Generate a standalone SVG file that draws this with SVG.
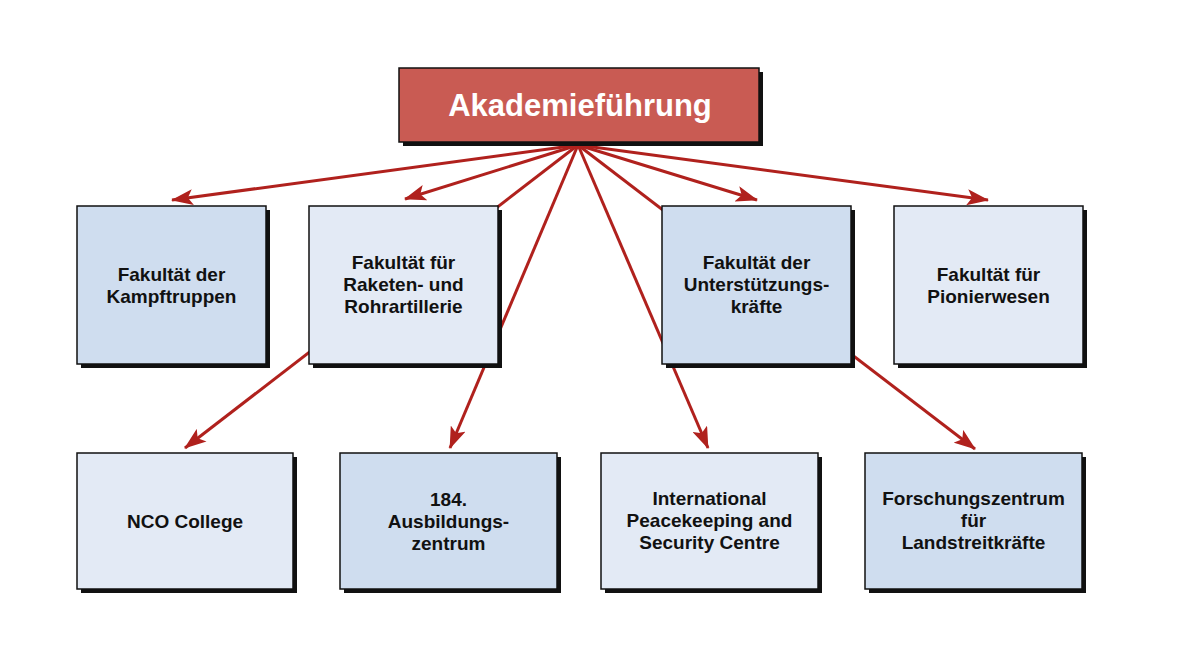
<svg xmlns="http://www.w3.org/2000/svg" width="1181" height="664" viewBox="0 0 1181 664">
<style>
.sh{fill:#111}
.bx{stroke:#111;stroke-width:1.5}
.dk{fill:#cfddef}
.lt{fill:#e3eaf5}
.t{font-family:"Liberation Sans",Arial,sans-serif;font-weight:bold;font-size:19px;fill:#111;text-anchor:middle}
.c{stroke:#b0211d;stroke-width:3;fill:none;marker-end:url(#ah)}
</style>
<defs>
<marker id="ah" viewBox="0 0 22 16" refX="21" refY="8" markerWidth="22" markerHeight="16" markerUnits="userSpaceOnUse" orient="auto">
<path d="M0,0 L22,8 L0,16 L5,8 Z" fill="#b0211d"/>
</marker>
</defs>
<rect width="1181" height="664" fill="#fff"/>
<g id="connectors">
<line class="c" x1="578" y1="145" x2="172" y2="200"/>
<line class="c" x1="578" y1="145" x2="405" y2="199"/>
<line class="c" x1="578" y1="145" x2="757" y2="200"/>
<line class="c" x1="578" y1="145" x2="988" y2="200"/>
<line class="c" x1="578" y1="145" x2="185" y2="448"/>
<line class="c" x1="578" y1="145" x2="450" y2="448"/>
<line class="c" x1="578" y1="145" x2="708" y2="448"/>
<line class="c" x1="578" y1="145" x2="975" y2="449"/>
</g>
<g id="top">
<rect class="sh" x="403" y="72" width="360" height="74"/>
<rect class="bx" x="399" y="68" width="360" height="74" fill="#c95b53"/>
<text x="580" y="116" font-family="Liberation Sans,Arial,sans-serif" font-weight="bold" font-size="31" fill="#fff" text-anchor="middle">Akademieführung</text>
</g>
<g id="n1">
<rect class="sh" x="81" y="210" width="189" height="158"/>
<rect class="bx dk" x="77" y="206" width="189" height="158"/>
<text class="t" x="171.5" y="281">Fakultät der</text>
<text class="t" x="171.5" y="303">Kampftruppen</text>
</g>
<g id="n2">
<rect class="sh" x="313" y="210" width="189" height="158"/>
<rect class="bx lt" x="309" y="206" width="189" height="158"/>
<text class="t" x="403.5" y="269">Fakultät für</text>
<text class="t" x="403.5" y="291">Raketen- und</text>
<text class="t" x="403.5" y="313">Rohrartillerie</text>
</g>
<g id="n3">
<rect class="sh" x="666" y="210" width="189" height="158"/>
<rect class="bx dk" x="662" y="206" width="189" height="158"/>
<text class="t" x="756.5" y="269">Fakultät der</text>
<text class="t" x="756.5" y="291">Unterstützungs-</text>
<text class="t" x="756.5" y="313">kräfte</text>
</g>
<g id="n4">
<rect class="sh" x="898" y="210" width="189" height="158"/>
<rect class="bx lt" x="894" y="206" width="189" height="158"/>
<text class="t" x="988.5" y="281">Fakultät für</text>
<text class="t" x="988.5" y="303">Pionierwesen</text>
</g>
<g id="n5">
<rect class="sh" x="81" y="457" width="216" height="136"/>
<rect class="bx lt" x="77" y="453" width="216" height="136"/>
<text class="t" x="185" y="528">NCO College</text>
</g>
<g id="n6">
<rect class="sh" x="344" y="457" width="217" height="136"/>
<rect class="bx dk" x="340" y="453" width="217" height="136"/>
<text class="t" x="448.5" y="506">184.</text>
<text class="t" x="448.5" y="528">Ausbildungs-</text>
<text class="t" x="448.5" y="550">zentrum</text>
</g>
<g id="n7">
<rect class="sh" x="605" y="457" width="217" height="136"/>
<rect class="bx lt" x="601" y="453" width="217" height="136"/>
<text class="t" x="709.5" y="505">International</text>
<text class="t" x="709.5" y="527">Peacekeeping and</text>
<text class="t" x="709.5" y="549">Security Centre</text>
</g>
<g id="n8">
<rect class="sh" x="869" y="457" width="217" height="136"/>
<rect class="bx dk" x="865" y="453" width="217" height="136"/>
<text class="t" x="973.5" y="505">Forschungszentrum</text>
<text class="t" x="973.5" y="527">für</text>
<text class="t" x="973.5" y="549">Landstreitkräfte</text>
</g>
</svg>
